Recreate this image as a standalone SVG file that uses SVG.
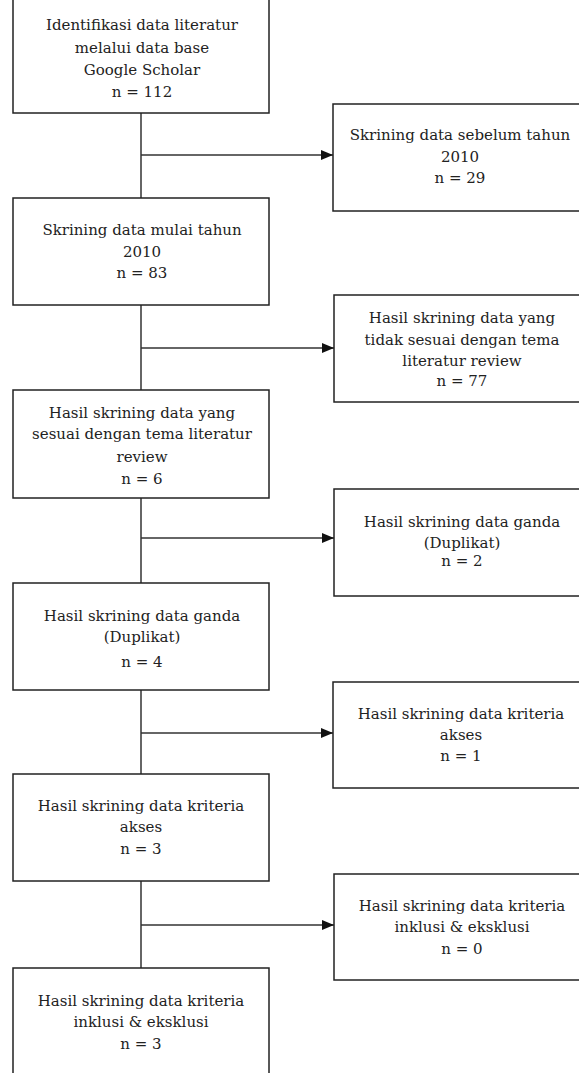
<svg xmlns="http://www.w3.org/2000/svg" width="579" height="1073" viewBox="0 0 579 1073">
<style>
.box{fill:#fff;stroke:#222;stroke-width:1.5}
text{font-family:"DejaVu Serif","Liberation Serif",serif;font-size:15px;fill:#222;text-anchor:middle}
.c{stroke:#333;stroke-width:1.5;fill:none}
</style>
<defs>
<marker id="ah" markerWidth="12" markerHeight="10" refX="12" refY="5" orient="auto" markerUnits="userSpaceOnUse">
<path d="M0,0 L12,5 L0,10 Z" fill="#111"/>
</marker>
</defs>
<rect width="579" height="1073" fill="#fff"/>
<g id="connectors">
<line class="c" x1="141" y1="113" x2="141" y2="198"/>
<line class="c" x1="141" y1="305" x2="141" y2="390"/>
<line class="c" x1="141" y1="498" x2="141" y2="583"/>
<line class="c" x1="141" y1="690" x2="141" y2="774"/>
<line class="c" x1="141" y1="881" x2="141" y2="968"/>
<line class="c" x1="141" y1="155" x2="333" y2="155" marker-end="url(#ah)"/>
<line class="c" x1="141" y1="348" x2="334" y2="348" marker-end="url(#ah)"/>
<line class="c" x1="141" y1="538" x2="334" y2="538" marker-end="url(#ah)"/>
<line class="c" x1="141" y1="733" x2="333" y2="733" marker-end="url(#ah)"/>
<line class="c" x1="141" y1="925" x2="334" y2="925" marker-end="url(#ah)"/>
</g>
<g id="n1">
<rect class="box" x="13" y="-8" width="256" height="121"/>
<text x="142" y="30">Identifikasi data literatur</text>
<text x="142" y="53">melalui data base</text>
<text x="142" y="75">Google Scholar</text>
<text x="142" y="97">n = 112</text>
</g>
<g id="r1">
<rect class="box" x="333" y="104" width="256" height="107"/>
<text x="460" y="140">Skrining data sebelum tahun</text>
<text x="460" y="162">2010</text>
<text x="460" y="183">n = 29</text>
</g>
<g id="n2">
<rect class="box" x="13" y="198" width="256" height="107"/>
<text x="142" y="235">Skrining data mulai tahun</text>
<text x="142" y="257">2010</text>
<text x="142" y="278">n = 83</text>
</g>
<g id="r2">
<rect class="box" x="334" y="295" width="256" height="107"/>
<text x="462" y="323">Hasil skrining data yang</text>
<text x="462" y="345">tidak sesuai dengan tema</text>
<text x="462" y="366">literatur review</text>
<text x="462" y="386">n = 77</text>
</g>
<g id="n3">
<rect class="box" x="13" y="390" width="256" height="108"/>
<text x="142" y="418">Hasil skrining data yang</text>
<text x="142" y="439">sesuai dengan tema literatur</text>
<text x="142" y="462">review</text>
<text x="142" y="484">n = 6</text>
</g>
<g id="r3">
<rect class="box" x="334" y="489" width="256" height="107"/>
<text x="462" y="527">Hasil skrining data ganda</text>
<text x="462" y="548">(Duplikat)</text>
<text x="462" y="566">n = 2</text>
</g>
<g id="n4">
<rect class="box" x="13" y="583" width="256" height="107"/>
<text x="142" y="621">Hasil skrining data ganda</text>
<text x="142" y="642">(Duplikat)</text>
<text x="142" y="667">n = 4</text>
</g>
<g id="r4">
<rect class="box" x="333" y="682" width="256" height="106"/>
<text x="461" y="719">Hasil skrining data kriteria</text>
<text x="461" y="740">akses</text>
<text x="461" y="761">n = 1</text>
</g>
<g id="n5">
<rect class="box" x="13" y="774" width="256" height="107"/>
<text x="141" y="811">Hasil skrining data kriteria</text>
<text x="141" y="832">akses</text>
<text x="141" y="854">n = 3</text>
</g>
<g id="r5">
<rect class="box" x="334" y="874" width="256" height="106"/>
<text x="462" y="911">Hasil skrining data kriteria</text>
<text x="462" y="932">inklusi &amp; eksklusi</text>
<text x="462" y="954">n = 0</text>
</g>
<g id="n6">
<rect class="box" x="13" y="968" width="256" height="110"/>
<text x="141" y="1006">Hasil skrining data kriteria</text>
<text x="141" y="1027">inklusi &amp; eksklusi</text>
<text x="141" y="1049">n = 3</text>
</g>
</svg>
